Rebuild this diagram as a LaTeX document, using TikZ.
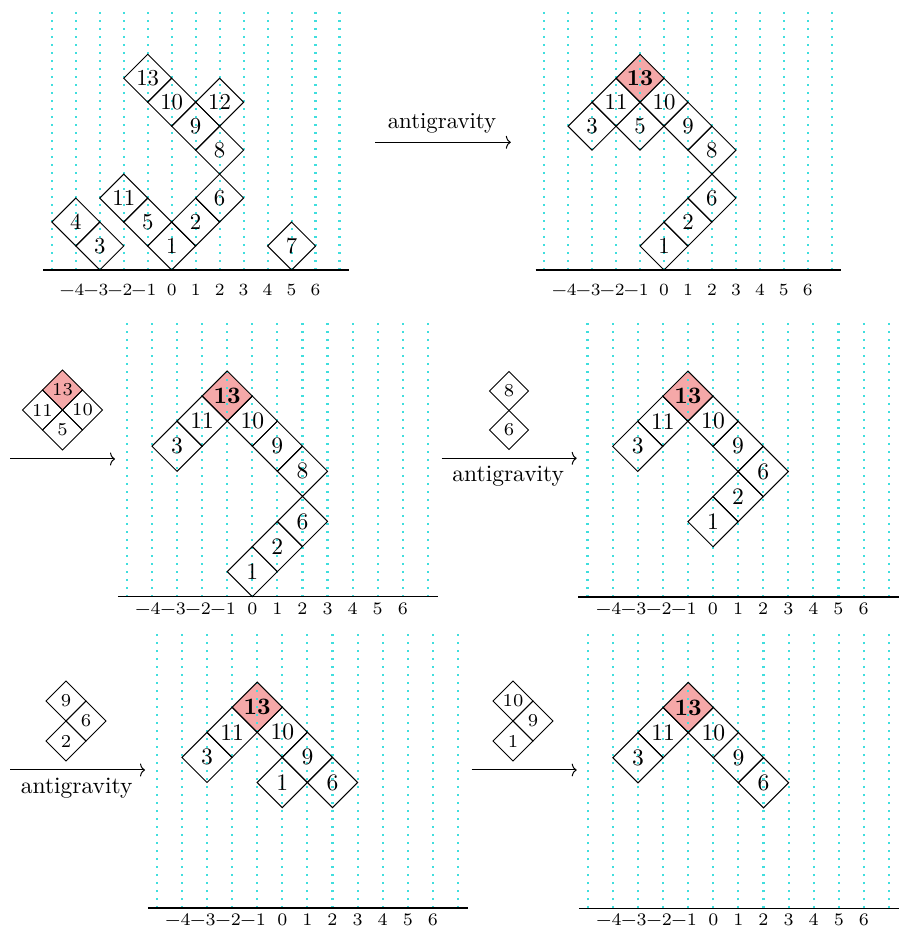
\documentclass[tikz,border=0pt]{standalone}
\usetikzlibrary{arrows.meta}
\definecolor{gridc}{RGB}{64,222,222}
\definecolor{pinkc}{RGB}{245,168,168}
\tikzset{
  basefont/.style={font=\fontsize{10}{12}\selectfont},
  smallfont/.style={font=\fontsize{7}{8.4}\selectfont},
  gridline/.style={draw=gridc, line width=2.1pt, dash pattern=on 2.1pt off 5.9pt},
  axisline/.style={draw=black, line width=1.5pt},
  cellline/.style={draw=black, line width=1pt, line join=miter},
  celltext/.style={inner sep=0pt, basefont, scale=2.28},
  lab/.style={inner sep=0pt, smallfont, scale=2.45},
  arr/.style={draw=black, line width=1pt, -{To[length=5pt,width=13pt]}},
  albl/.style={inner sep=0pt, basefont, scale=2.28},
  rowtwo/.style={celltext/.style={inner sep=0pt, basefont, scale=2.36},
                 lab/.style={inner sep=0pt, smallfont, scale=2.52}},
  smallpiece/.style={celltext/.style={inner sep=0pt, smallfont, scale=2.6}},
}
\newcommand\gridaxis[1]{%
  \foreach \i in {-5,...,7}{\draw[gridline] (\i,0) -- (\i,11);}
  \draw[axisline] (-5.36,0) -- (7.4,0);
  \foreach \i in {1,...,4}{\node[lab] (\pid labm\i) at (-\i-0.16,#1) {−\i};}
  \foreach \i in {0,...,6}{\node[lab] (\pid lab\i) at (\i,#1) {\i};}
}
\newcommand\cellbox[3]{%
  \draw[cellline] (#1-1,#2) -- (#1,#2+1) -- (#1+1,#2) -- (#1,#2-1) -- cycle;
  \node[celltext] (\pid c#3) at (#1,#2) {#3};}
\newcommand\cellboldbox[3]{%
  \draw[cellline] (#1-1,#2) -- (#1,#2+1) -- (#1+1,#2) -- (#1,#2-1) -- cycle;
  \node[celltext] (\pid c#3) at (#1,#2) {\textbf{#3}};}
\newcommand\cellpink[2]{%
  \fill[pinkc] (#1-1,#2) -- (#1,#2+1) -- (#1+1,#2) -- (#1,#2-1) -- cycle;}
\begin{document}
\begin{tikzpicture}[x=1pt,y=1pt]
\useasboundingbox (0,0) rectangle (898,930);

% ---------- Panel A (top left)
\begin{scope}[shift={(171.7,660)}, x=23.97pt, y=23.97pt]
  \def\pid{A}
  \gridaxis{-0.84}
  \cellbox{0}{1}{1}
  \cellbox{1}{2}{2}
  \cellbox{2}{3}{6}
  \cellbox{-1}{2}{5}
  \cellbox{-2}{3}{11}
  \cellbox{-3}{1}{3}
  \cellbox{-4}{2}{4}
  \cellbox{5}{1}{7}
  \cellbox{2}{5}{8}
  \cellbox{1}{6}{9}
  \cellbox{2}{7}{12}
  \cellbox{0}{7}{10}
  \cellbox{-1}{8}{13}
\end{scope}

% ---------- arrow A -> B
\coordinate (a1s) at (375.4,787.7);
\coordinate (a1e) at (510.8,787.7);
\draw[arr] (a1s) -- (a1e);
\node[albl] (a1l) at (442,806.6) {antigravity};

% ---------- Panel B (top right)
\begin{scope}[shift={(664,660)}, x=23.97pt, y=23.97pt]
  \def\pid{B}
  \cellpink{-1}{8}
  \gridaxis{-0.84}
  \cellbox{0}{1}{1}
  \cellbox{1}{2}{2}
  \cellbox{2}{3}{6}
  \cellbox{2}{5}{8}
  \cellbox{1}{6}{9}
  \cellbox{0}{7}{10}
  \cellboldbox{-1}{8}{13}
  \cellbox{-2}{7}{11}
  \cellbox{-1}{6}{5}
  \cellbox{-3}{6}{3}
\end{scope}

% ---------- small piece C
\begin{scope}[shift={(62.5,520)}, x=20pt, y=20pt, smallpiece]
  \def\pid{Cs}
  \cellpink{0}{1}
  \cellbox{0}{1}{13}
  \cellbox{-1}{0}{11}
  \cellbox{1}{0}{10}
  \cellbox{0}{-1}{5}
\end{scope}
\coordinate (a2s) at (10,471);
\coordinate (a2e) at (115,471);
\draw[arr] (a2s) -- (a2e);

% ---------- Panel C (middle left)
\begin{scope}[shift={(252.3,333.3)}, x=25.08pt, y=25.08pt, rowtwo]
  \def\pid{C}
  \cellpink{-1}{8}
  \gridaxis{-0.48}
  \cellbox{0}{1}{1}
  \cellbox{1}{2}{2}
  \cellbox{2}{3}{6}
  \cellbox{2}{5}{8}
  \cellbox{1}{6}{9}
  \cellbox{0}{7}{10}
  \cellboldbox{-1}{8}{13}
  \cellbox{-2}{7}{11}
  \cellbox{-3}{6}{3}
\end{scope}

% ---------- small piece D
\begin{scope}[shift={(509,519.5)}, x=19.5pt, y=19.5pt, smallpiece]
  \def\pid{Ds}
  \cellbox{0}{1}{8}
  \cellbox{0}{-1}{6}
\end{scope}
\coordinate (a3s) at (441.7,471.7);
\coordinate (a3e) at (576.7,471.7);
\draw[arr] (a3s) -- (a3e);
\node[albl, scale=1.03] (a3l) at (508.3,454) {antigravity};

% ---------- Panel D (middle right)
\begin{scope}[shift={(713,333)}, x=25.1pt, y=25.1pt, rowtwo]
  \def\pid{D}
  \cellpink{-1}{8}
  \gridaxis{-0.46}
  \cellbox{0}{3}{1}
  \cellbox{1}{4}{2}
  \cellbox{2}{5}{6}
  \cellbox{1}{6}{9}
  \cellbox{0}{7}{10}
  \cellboldbox{-1}{8}{13}
  \cellbox{-2}{7}{11}
  \cellbox{-3}{6}{3}
\end{scope}

% ---------- small piece E
\begin{scope}[shift={(66,209)}, x=20pt, y=20pt, smallpiece]
  \def\pid{Es}
  \cellbox{0}{1}{9}
  \cellbox{1}{0}{6}
  \cellbox{0}{-1}{2}
\end{scope}
\coordinate (a4s) at (10,160);
\coordinate (a4e) at (145,160);
\draw[arr] (a4s) -- (a4e);
\node[albl, scale=1.03] (a4l) at (76.7,142) {antigravity};

% ---------- Panel E (bottom left)
\begin{scope}[shift={(282.3,22)}, x=25.1pt, y=25.1pt, rowtwo]
  \def\pid{E}
  \cellpink{-1}{8}
  \gridaxis{-0.46}
  \cellbox{0}{5}{1}
  \cellbox{2}{5}{6}
  \cellbox{1}{6}{9}
  \cellbox{0}{7}{10}
  \cellboldbox{-1}{8}{13}
  \cellbox{-2}{7}{11}
  \cellbox{-3}{6}{3}
\end{scope}

% ---------- small piece F
\begin{scope}[shift={(513,209)}, x=20pt, y=20pt, smallpiece]
  \def\pid{Fs}
  \cellbox{0}{1}{10}
  \cellbox{1}{0}{9}
  \cellbox{0}{-1}{1}
\end{scope}
\coordinate (a5s) at (471.7,160);
\coordinate (a5e) at (576.7,160);
\draw[arr] (a5s) -- (a5e);

% ---------- Panel F (bottom right)
\begin{scope}[shift={(713.3,21.7)}, x=25.1pt, y=25.1pt, rowtwo]
  \def\pid{F}
  \cellpink{-1}{8}
  \gridaxis{-0.46}
  \cellbox{2}{5}{6}
  \cellbox{1}{6}{9}
  \cellbox{0}{7}{10}
  \cellboldbox{-1}{8}{13}
  \cellbox{-2}{7}{11}
  \cellbox{-3}{6}{3}
\end{scope}
\end{tikzpicture}
\end{document}
